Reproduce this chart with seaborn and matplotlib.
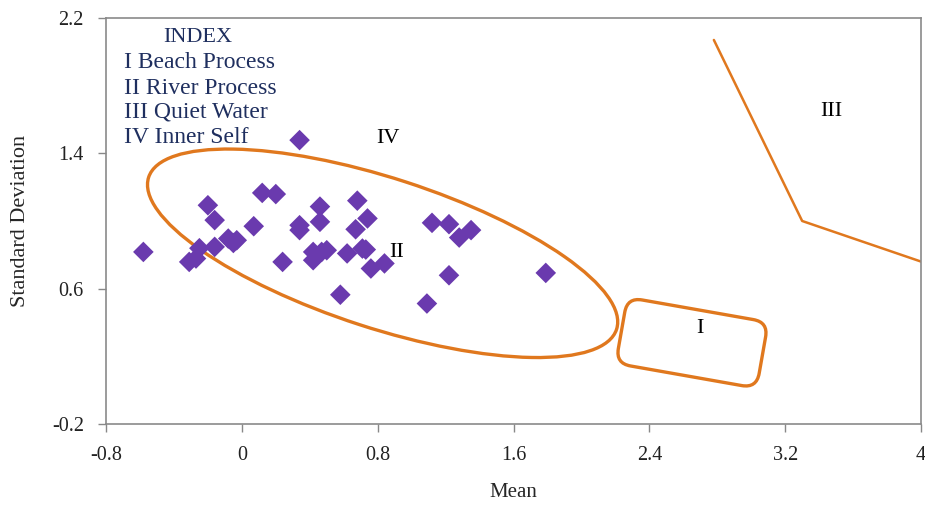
import numpy as np
import pandas as pd
import matplotlib
matplotlib.use("Agg")
import matplotlib.pyplot as plt
import matplotlib.transforms as mtransforms
from matplotlib.patches import Ellipse, FancyBboxPatch
import seaborn as sns

# sample values
mean_vals = [-0.58, 0.34, 0.12, 0.20, -0.20, -0.16, 0.07, -0.08, -0.05, -0.03,
             -0.16, -0.25, -0.31, -0.27, 0.24, 0.34, 0.34, 0.46, 0.46, 0.42,
             0.42, 0.47, 0.50, 0.68, 0.74, 0.67, 0.62, 0.71, 0.73, 0.76,
             0.84, 0.58, 1.12, 1.22, 1.28, 1.35, 1.22, 1.09, 1.79]
sd_vals = [0.817, 1.478, 1.166, 1.159, 1.093, 1.005, 0.969, 0.896, 0.870, 0.886,
           0.847, 0.839, 0.758, 0.778, 0.758, 0.975, 0.946, 1.085, 0.995, 0.817,
           0.768, 0.817, 0.827, 1.120, 1.015, 0.951, 0.808, 0.837, 0.831, 0.719,
           0.749, 0.564, 0.989, 0.981, 0.902, 0.946, 0.679, 0.512, 0.693]

# quiet water boundary
quiet_x = [2.78, 3.30, 4.0]
quiet_y = [2.07, 1.00, 0.76]

region_labels = ["IV", "II", "I", "III"]
region_x = [0.86, 0.91, 2.70, 3.47]
region_y = [1.49, 0.815, 0.366, 1.65]

index_title = "INDEX"
index_lines = ["I Beach Process", "II River Process", "III Quiet Water", "IV Inner Self"]

x_ticks = [-0.8, 0, 0.8, 1.6, 2.4, 3.2, 4]
x_labels = ["-0.8", "0", "0.8", "1.6", "2.4", "3.2", "4"]
y_ticks = [-0.2, 0.6, 1.4, 2.2]
y_labels = ["-0.2", "0.6", "1.4", "2.2"]

orange = "#E0781E"
purple = "#6A3AAE"
navy = "#1F2F5F"

sns.set_style("white")
plt.rcParams["font.family"] = ["Liberation Serif", "DejaVu Serif"]

fig = plt.figure(figsize=(9.25, 5.08), dpi=100)
ax = fig.add_axes([0.1146, 0.1654, 0.8811, 0.7992])

df = pd.DataFrame({"Mean": mean_vals, "Standard Deviation": sd_vals})
sns.scatterplot(data=df, x="Mean", y="Standard Deviation", marker="D", s=110,
                color=purple, edgecolor="none", ax=ax, zorder=3)

ax.set_xlim(-0.8, 4)
ax.set_ylim(-0.2, 2.2)
ax.set_xticks(x_ticks)
ax.set_xticklabels(x_labels)
ax.set_yticks(y_ticks)
ax.set_yticklabels(y_labels)
ax.tick_params(direction="out", length=6, width=1, color="#888888",
               labelsize=14.5, pad=10, left=True, bottom=True, labelcolor="#222222")
for sp in ax.spines.values():
    sp.set_color("#8a8a8a")
    sp.set_linewidth(1.2)

ax.set_xlabel("Mean", fontsize=15)
ax.set_ylabel("Standard Deviation", fontsize=16)
ax.xaxis.label.set_va("center")
ax.yaxis.label.set_va("center")
ax.xaxis.set_label_coords(0.5, -0.17)
ax.yaxis.set_label_coords(-0.105, 0.5)

# river process ellipse (size in inches, centred in data coords)
trans_ell = fig.dpi_scale_trans + mtransforms.ScaledTranslation(0.829, 0.809, ax.transData)
ax.add_patch(Ellipse((0, 0), 4.92, 1.50, angle=-18, fill=False, ec=orange,
                     lw=2.4, transform=trans_ell, zorder=2))

# beach process rounded box
trans_box = (mtransforms.Affine2D().rotate_deg(-10) + fig.dpi_scale_trans
             + mtransforms.ScaledTranslation(2.651, 0.280, ax.transData))
ax.add_patch(FancyBboxPatch((-0.715, -0.335), 1.43, 0.67,
                            boxstyle="round,pad=0,rounding_size=0.15",
                            fill=False, ec=orange, lw=2.4, transform=trans_box, zorder=2))

ax.plot(quiet_x, quiet_y, color=orange, lw=1.8, zorder=2)

for lab, x, y in zip(region_labels, region_x, region_y):
    ax.text(x, y, lab, fontsize=16, ha="center", va="center", color="black")

ax.text(-0.259, 2.082, index_title, fontsize=16, ha="center", va="center", color=navy)
index_y = [1.934, 1.786, 1.644, 1.496]
for txt, y in zip(index_lines, index_y):
    ax.text(-0.694, y, txt, fontsize=17, ha="left", va="center", color=navy)

fig.savefig("out.png", dpi=100)
